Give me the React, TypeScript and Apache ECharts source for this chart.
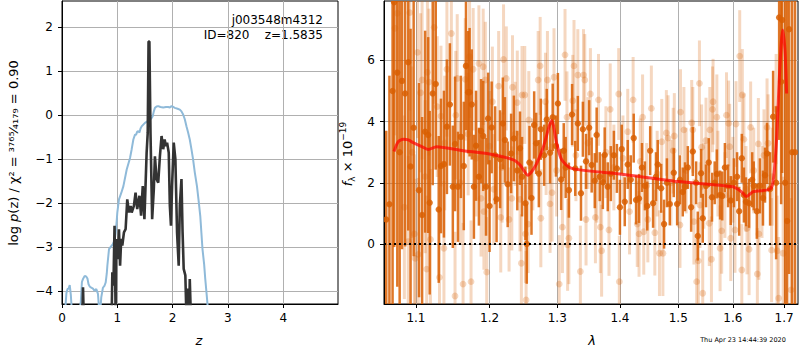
import React, { useEffect, useRef } from "react";
import * as echarts from "echarts";

// ---------- left panel: log p(z) ----------
const zTicks = [0, 1, 2, 3, 4];
const pzTicks = [-4, -3, -2, -1, 0, 1, 2];

const blueZ = [0.0, 0.06, 0.08, 0.1, 0.12, 0.14, 0.16, 0.18, 0.3, 0.34, 0.36, 0.38, 0.41, 0.44, 0.46, 0.48, 0.5, 0.53, 0.56, 0.59, 0.62, 0.65, 0.67, 0.69, 0.71, 0.74, 0.77, 0.79, 0.81, 0.82, 0.85, 0.88, 0.92, 0.95, 0.97, 0.99, 1.0, 1.03, 1.07, 1.11, 1.17, 1.23, 1.26, 1.29, 1.32, 1.34, 1.36, 1.38, 1.4, 1.42, 1.44, 1.47, 1.5, 1.55, 1.59, 1.62, 1.64, 1.66, 1.68, 1.71, 1.74, 1.78, 1.83, 1.88, 1.92, 1.95, 1.98, 2.01, 2.04, 2.09, 2.13, 2.16, 2.19, 2.22, 2.25, 2.28, 2.31, 2.34, 2.37, 2.4, 2.44, 2.47, 2.5, 2.54, 2.57, 2.59, 2.62, 2.65, 2.8];
const blueLogP = [-5.0, -4.4, -4.05, -3.96, -3.95, -3.87, -4.1, -4.5, -4.6, -4.25, -3.8, -3.73, -3.66, -3.68, -3.72, -3.85, -3.9, -3.93, -3.95, -4.0, -3.96, -4.07, -4.4, -4.5, -4.15, -3.93, -3.88, -3.81, -3.6, -3.43, -3.05, -3.0, -2.94, -2.85, -2.68, -2.4, -2.22, -1.92, -1.78, -1.62, -1.24, -0.98, -0.78, -0.56, -0.45, -0.45, -0.38, -0.37, -0.4, -0.31, -0.26, -0.22, -0.18, -0.14, -0.11, -0.07, -0.03, 0.08, 0.16, 0.19, 0.2, 0.18, 0.17, 0.18, 0.18, 0.17, 0.2, 0.18, 0.16, 0.14, 0.12, 0.08, 0.01, -0.1, -0.26, -0.4, -0.56, -0.78, -1.01, -1.3, -1.62, -1.95, -2.3, -3.05, -3.4, -3.73, -4.15, -4.6, -5.5];

const blackZ = [0.0, 0.36, 0.38, 0.4, 0.88, 0.9, 0.91, 0.93, 0.95, 0.97, 0.98, 1.01, 1.03, 1.05, 1.07, 1.09, 1.12, 1.15, 1.18, 1.21, 1.24, 1.26, 1.3, 1.33, 1.36, 1.4, 1.43, 1.46, 1.49, 1.51, 1.53, 1.55, 1.565, 1.58, 1.6, 1.63, 1.66, 1.68, 1.71, 1.74, 1.77, 1.8, 1.83, 1.855, 1.88, 1.9, 1.93, 1.95, 1.97, 1.99, 2.02, 2.05, 2.08, 2.11, 2.13, 2.16, 2.18, 2.2, 2.23, 2.25, 2.28, 2.3, 2.31, 2.33, 2.4, 4.99];
const blackLogP = [-5, -5, -3.92, -5, -5, -4.4, -3.58, -3.88, -2.52, -4.6, -2.82, -3.28, -2.6, -3.43, -2.82, -2.97, -2.67, -2.6, -1.92, -2.22, -2.07, -2.22, -2.07, -1.77, -2.14, -1.84, -2.29, -1.62, -2.37, -1.62, -0.86, -0.41, 1.67, 1.67, -0.41, -2.37, -1.69, -0.94, -1.46, -1.54, -0.94, -0.48, -0.78, -0.56, -0.71, -0.63, -0.86, -2.07, -2.52, -1.62, -0.63, -1.01, -2.67, -3.43, -2.07, -1.46, -2.67, -3.5, -3.65, -4.6, -3.95, -4.6, -3.73, -4.6, -5, -5];

// ---------- right panel: spectrum ----------
const lamTicks = [1.1, 1.2, 1.3, 1.4, 1.5, 1.6, 1.7];
const fluxTicks = [0, 2, 4, 6];

const darkWave = [1.062, 1.066, 1.07, 1.072, 1.076, 1.079, 1.082, 1.086, 1.09, 1.093, 1.097, 1.104, 1.108, 1.112, 1.116, 1.118, 1.122, 1.126, 1.13, 1.133, 1.137, 1.141, 1.145, 1.149, 1.152, 1.156, 1.16, 1.164, 1.167, 1.17, 1.172, 1.175, 1.178, 1.181, 1.185, 1.188, 1.191, 1.195, 1.198, 1.2, 1.203, 1.208, 1.21, 1.215, 1.219, 1.222, 1.226, 1.231, 1.235, 1.24, 1.244, 1.247, 1.252, 1.254, 1.258, 1.261, 1.265, 1.268, 1.272, 1.275, 1.28, 1.284, 1.289, 1.293, 1.298, 1.301, 1.306, 1.31, 1.313, 1.318, 1.323, 1.328, 1.332, 1.337, 1.34, 1.345, 1.35, 1.354, 1.359, 1.362, 1.367, 1.372, 1.375, 1.38, 1.385, 1.39, 1.395, 1.4, 1.403, 1.408, 1.413, 1.418, 1.423, 1.427, 1.432, 1.437, 1.442, 1.446, 1.451, 1.456, 1.461, 1.464, 1.47, 1.475, 1.48, 1.485, 1.492, 1.498, 1.503, 1.508, 1.512, 1.517, 1.523, 1.526, 1.532, 1.535, 1.541, 1.544, 1.55, 1.555, 1.561, 1.566, 1.57, 1.576, 1.58, 1.585, 1.591, 1.596, 1.602, 1.608, 1.612, 1.617, 1.621, 1.625, 1.631, 1.637, 1.64, 1.646, 1.652, 1.658, 1.662, 1.666, 1.672, 1.678, 1.684, 1.69, 1.694, 1.696, 1.702, 1.706, 1.71, 1.716, 1.722];
const darkFlux = [0.8, 1.3, 5.0, 7.9, 5.6, 3.0, 5.33, 4.92, 5.94, 2.53, 3.8, 1.76, 0.95, 3.67, 3.56, 1.35, 4.92, 5.23, 1.13, 2.55, 2.61, 3.83, 4.56, 1.87, 3.27, 1.87, 3.5, 2.55, 5.82, 4.96, 4.96, 4.56, 1.87, 3.21, 2.2, 3.69, 3.53, 1.87, 4.1, 1.24, 3.81, 2.9, 1.46, 2.77, 3.94, 3.4, 1.95, 2.96, 3.45, 2.4, 3.13, 2.2, 1.33, 0.0, 2.66, 1.5, 3.89, 3.29, 2.3, 3.75, 2.9, 4.07, 2.98, 4.14, 3.2, 4.59, 2.11, 3.05, 2.5, 1.76, 4.23, 2.47, 3.94, 1.66, 3.75, 2.7, 3.8, 2.58, 2.07, 3.56, 2.2, 2.04, 2.91, 1.87, 2.3, 2.9, 2.47, 1.2, 3.1, 1.38, 2.6, 2.1, 3.46, 1.44, 1.49, 2.5, 1.9, 1.24, 3.05, 1.33, 2.2, 2.6, 1.82, 0.65, 2.0, 1.31, 2.33, 1.31, 2.1, 1.7, 1.87, 2.5, 1.2, 3.02, 2.0, 0.26, 2.31, 0.84, 1.9, 2.66, 1.53, 2.0, 2.29, 1.6, 1.57, 2.5, 1.9, 1.42, 2.0, 2.2, 1.07, 2.8, 1.6, 1.38, 1.33, 2.1, 1.9, 1.07, 1.9, 1.5, 2.25, 2.96, 1.8, 4.16, 2.0, 7.4, 5.3, 7.32, 2.0, 0.75, 7.02, 3.0, 3.0];
const darkErr = [2.9, 4.2, 7.5, 8.0, 7.0, 6.5, 5.5, 5.0, 5.5, 4.5, 4.2, 3.5, 3.2, 3.3, 3.2, 3.0, 3.0, 2.8, 2.4, 2.2, 2.4, 2.2, 2.0, 2.0, 2.2, 1.8, 2.0, 2.1, 2.1, 2.0, 2.1, 1.8, 1.7, 1.8, 1.6, 1.7, 1.8, 1.6, 1.5, 1.5, 1.5, 1.6, 1.4, 1.6, 1.5, 1.4, 1.4, 1.3, 1.4, 1.3, 1.2, 1.3, 1.2, 1.3, 1.2, 1.2, 1.1, 1.0, 1.1, 1.0, 1.0, 1.0, 1.0, 1.1, 1.0, 1.0, 1.0, 0.9, 1.0, 0.9, 1.0, 0.9, 0.9, 0.9, 0.9, 0.9, 0.9, 0.9, 0.9, 0.9, 0.8, 0.9, 0.9, 0.8, 0.9, 0.8, 0.8, 0.9, 0.8, 0.8, 0.8, 0.8, 0.8, 0.8, 0.8, 0.8, 0.8, 0.8, 0.8, 0.8, 0.8, 0.8, 0.8, 0.8, 0.8, 0.7, 0.8, 0.7, 0.8, 0.8, 0.8, 0.7, 0.8, 0.8, 0.7, 0.8, 0.8, 0.8, 0.7, 0.8, 0.8, 0.7, 0.8, 0.8, 0.8, 0.8, 0.7, 0.8, 0.8, 0.8, 0.8, 0.8, 0.9, 0.8, 0.8, 0.9, 0.8, 0.9, 0.9, 0.9, 0.9, 1.0, 1.2, 1.5, 2.5, 4.0, 4.0, 5.0, 8.0, 8.0, 8.0, 9.0, 9.0];

const lightWave = [1.073, 1.076, 1.085, 1.09, 1.092, 1.095, 1.098, 1.099, 1.102, 1.103, 1.106, 1.108, 1.112, 1.114, 1.115, 1.117, 1.119, 1.124, 1.128, 1.131, 1.133, 1.137, 1.138, 1.141, 1.147, 1.152, 1.153, 1.155, 1.159, 1.163, 1.166, 1.17, 1.172, 1.174, 1.177, 1.181, 1.185, 1.188, 1.191, 1.192, 1.194, 1.196, 1.2, 1.204, 1.206, 1.213, 1.216, 1.218, 1.22, 1.224, 1.228, 1.232, 1.233, 1.237, 1.24, 1.244, 1.246, 1.247, 1.251, 1.252, 1.253, 1.256, 1.257, 1.263, 1.271, 1.274, 1.275, 1.282, 1.283, 1.285, 1.289, 1.292, 1.295, 1.299, 1.303, 1.308, 1.312, 1.315, 1.316, 1.318, 1.324, 1.326, 1.329, 1.332, 1.336, 1.341, 1.343, 1.345, 1.348, 1.352, 1.36, 1.362, 1.365, 1.368, 1.37, 1.377, 1.382, 1.384, 1.39, 1.398, 1.399, 1.405, 1.413, 1.416, 1.422, 1.429, 1.432, 1.434, 1.438, 1.44, 1.445, 1.447, 1.453, 1.459, 1.463, 1.467, 1.471, 1.473, 1.479, 1.482, 1.487, 1.491, 1.493, 1.503, 1.504, 1.51, 1.514, 1.524, 1.526, 1.528, 1.533, 1.536, 1.538, 1.539, 1.542, 1.544, 1.546, 1.55, 1.556, 1.557, 1.56, 1.562, 1.563, 1.57, 1.572, 1.576, 1.579, 1.585, 1.588, 1.592, 1.594, 1.596, 1.6, 1.604, 1.606, 1.613, 1.617, 1.618, 1.621, 1.625, 1.627, 1.631, 1.634, 1.64, 1.647, 1.649, 1.65, 1.656, 1.66, 1.666, 1.668, 1.675, 1.676, 1.684, 1.686, 1.689, 1.698, 1.714];
const lightFlux = [7.05, 7.54, 1.2, 0.08, 7.56, 3.0, 0.33, -0.47, 6.26, -0.34, 4.94, 5.36, 2.2, -0.82, 5.61, 5.29, 0.15, 7.08, 4.49, -1.09, 4.18, -0.14, 3.3, 5.71, 6.88, -1.7, 4.21, 5.41, 2.0, -1.31, 5.38, 3.59, 6.12, -1.23, 5.71, 2.8, 5.9, 1.49, 5.79, 1.06, 5.36, -0.92, 3.2, 4.65, 1.79, 5.16, 0.87, 2.5, 6.03, 5.41, 0.8, 1.49, 5.12, 3.6, 4.62, 1.46, -0.63, 4.87, 4.87, 0.33, -1.83, 0.65, 4.05, 2.6, 5.36, 5.82, 0.84, 4.65, 3.1, 5.36, 1.31, 1.68, 5.45, 2.4, -1.31, 0.55, 6.18, 4.14, -0.03, 0.19, 4.68, 5.82, 2.9, 5.52, -0.9, 5.52, 5.36, 0.8, 3.3, 4.9, 0.87, 2.2, 4.71, 0.55, -0.22, 3.0, 0.46, 4.4, 2.5, 4.9, -1.23, 2.8, 3.67, 1.06, 4.71, 0.65, 0.33, 2.7, 4.14, 0.4, 1.9, 0.8, 4.43, 0.37, 2.3, -0.3, 3.34, -0.3, 3.63, 3.46, 2.0, 3.05, 3.53, 0.62, 4.31, 3.73, 2.4, 3.96, 3.73, 0.73, -1.23, -0.55, 5.25, 1.27, 3.16, -1.61, 1.9, 3.38, 0.68, 3.73, -0.5, 4.4, 4.65, 4.14, 2.3, -0.14, 0.43, 1.6, 4.21, 3.94, 3.18, 0.19, 2.1, 0.46, 3.92, 6.14, -0.85, 4.87, 3.42, 1.8, 0.51, -0.17, 3.81, 2.4, -0.98, 3.27, 0.33, 1.7, 2.9, 3.81, 3.29, -0.2, 2.2, 4.41, -0.22, -1.77, -0.3, -1.5];
const lightErr = [3.5, 3.5, 3.0, 2.8, 3.2, 2.8, 2.6, 2.6, 2.8, 2.5, 2.6, 2.6, 2.5, 2.4, 2.5, 2.4, 2.3, 2.5, 2.3, 2.2, 2.3, 2.2, 2.2, 2.2, 2.2, 2.1, 2.1, 2.1, 2.0, 2.0, 2.0, 2.0, 2.0, 2.0, 2.0, 1.9, 1.9, 1.9, 1.9, 1.9, 1.9, 1.8, 1.8, 1.8, 1.8, 1.8, 1.8, 1.8, 1.8, 1.7, 1.7, 1.7, 1.7, 1.7, 1.7, 1.7, 1.6, 1.6, 1.6, 1.6, 1.6, 1.6, 1.6, 1.5, 1.6, 1.6, 1.6, 1.6, 1.5, 1.6, 1.6, 1.6, 1.6, 1.5, 1.6, 1.5, 1.5, 1.5, 1.5, 1.5, 1.5, 1.5, 1.5, 1.5, 1.5, 1.5, 1.5, 1.5, 1.5, 1.5, 1.5, 1.5, 1.5, 1.5, 1.5, 1.5, 1.5, 1.5, 1.4, 1.5, 1.5, 1.4, 1.4, 1.4, 1.4, 1.4, 1.4, 1.4, 1.4, 1.4, 1.4, 1.4, 1.4, 1.4, 1.4, 1.4, 1.4, 1.4, 1.4, 1.4, 1.4, 1.4, 1.4, 1.4, 1.4, 1.4, 1.4, 1.4, 1.4, 1.4, 1.4, 1.4, 1.4, 1.4, 1.4, 1.4, 1.4, 1.4, 1.4, 1.4, 1.4, 1.4, 1.4, 1.4, 1.4, 1.4, 1.4, 1.4, 1.4, 1.4, 1.4, 1.4, 1.4, 1.4, 1.4, 1.5, 1.5, 1.5, 1.5, 1.4, 1.5, 1.5, 1.5, 1.4, 1.5, 1.5, 1.5, 1.5, 1.5, 1.6, 1.6, 1.7, 1.6, 1.8, 1.8, 2.0, 2.5, 3.0];

const modelWave = [1.0718, 1.077, 1.0836, 1.09, 1.0965, 1.1095, 1.116, 1.1272, 1.1632, 1.2, 1.2343, 1.2441, 1.2555, 1.2664, 1.2789, 1.2915, 1.2992, 1.3069, 1.3224, 1.4, 1.5, 1.6, 1.6163, 1.626, 1.6388, 1.6714, 1.678, 1.6848, 1.6915, 1.697, 1.7016, 1.705];
const modelFlux = [3.02, 3.34, 3.42, 3.4, 3.31, 3.16, 3.09, 3.18, 3.05, 2.94, 2.75, 2.58, 2.25, 2.53, 3.18, 4.03, 3.29, 2.75, 2.47, 2.29, 2.04, 1.87, 1.71, 1.55, 1.71, 1.79, 2.04, 3.4, 5.8, 6.99, 6.34, 4.92];

const Z_MAX = 4.99;
const PZ_MIN = -4.3;
const PZ_MAX = 2.59;
const LAM_MIN = 1.0592;
const LAM_MAX = 1.7281;
const F_MIN = -1.96;
const F_MAX = 7.94;

const FONT = "DejaVu Sans";
const LIGHT = "rgba(217,95,2,0.25)";
const DARK = "rgba(217,95,2,0.85)";

const lg = (v: number) => Math.log10(v);

function errRender(color: string, lw: number, r: number) {
  return (params: any, api: any) => {
    const x = api.value(0);
    const y = api.value(1);
    const e = api.value(2);
    const hi = Math.min(y + e, F_MAX);
    const lo = Math.max(y - e, F_MIN);
    const children: any[] = [];
    if (hi > lo) {
      const p0 = api.coord([x, hi]);
      const p1 = api.coord([x, lo]);
      children.push({
        type: "line",
        shape: { x1: p0[0], y1: p0[1], x2: p1[0], y2: p1[1] },
        style: { stroke: color, lineWidth: lw },
      });
    }
    if (y <= F_MAX && y >= F_MIN) {
      const c = api.coord([x, y]);
      children.push({ type: "circle", shape: { cx: c[0], cy: c[1], r }, style: { fill: color } });
    }
    return { type: "group", children };
  };
}

function axisCommon(ticks: number[], fmt?: (v: number) => string) {
  return {
    axisLine: { show: true, onZero: false, lineStyle: { color: "#000", width: 1 } },
    axisTick: { show: true, length: 4, customValues: ticks, lineStyle: { color: "#000", width: 1 } },
    axisLabel: {
      customValues: ticks,
      color: "#000",
      fontSize: 12,
      fontFamily: FONT,
      formatter: fmt ? (v: number) => fmt(v) : (v: number) => String(Math.round(v)).replace("-", "\u2212"),
    },
    splitLine: { show: true, lineStyle: { color: "#b0b0b0", width: 1 } },
  };
}

export default function App() {
  const ref = useRef<HTMLDivElement>(null);
  useEffect(() => {
    if (!ref.current) return;
    const chart = echarts.init(ref.current, undefined, { renderer: "svg" });
    const lamTickVals = lamTicks.map(lg);
    const option: any = {
      animation: false,
      backgroundColor: "#fff",
      textStyle: { fontFamily: FONT },
      grid: [
        { left: 62, top: 1, width: 276, height: 303, show: true, borderColor: "#000", borderWidth: 1, backgroundColor: "transparent", outerBoundsMode: "none" },
        { left: 384, top: 1, width: 414, height: 303, show: true, borderColor: "#000", borderWidth: 1, backgroundColor: "transparent", outerBoundsMode: "none" },
      ],
      xAxis: [
        (() => {
          const a: any = { gridIndex: 0, type: "value", min: 0, max: Z_MAX, ...axisCommon(zTicks) };
          a.axisLabel.margin = 8;
          return a;
        })(),
        (() => {
          const a: any = {
            gridIndex: 1,
            type: "value",
            min: lg(LAM_MIN),
            max: lg(LAM_MAX),
            ...axisCommon(lamTickVals, (v: number) => Math.pow(10, v).toFixed(1)),
          };
          a.axisLabel.margin = 8;
          return a;
        })(),
      ],
      yAxis: [
        (() => {
          const a: any = { gridIndex: 0, type: "value", min: PZ_MIN, max: PZ_MAX, ...axisCommon(pzTicks) };
          a.axisLabel.margin = 9;
          return a;
        })(),
        (() => {
          const a: any = { gridIndex: 1, type: "value", min: F_MIN, max: F_MAX, ...axisCommon(fluxTicks) };
          a.axisLabel.margin = 9;
          return a;
        })(),
      ],
      series: [
        {
          type: "line",
          xAxisIndex: 0,
          yAxisIndex: 0,
          data: blueZ.map((z, i) => [z, blueLogP[i]]),
          showSymbol: false,
          symbol: "none",
          clip: true,
          lineStyle: { color: "#8fbad9", width: 2 },
          z: 3,
        },
        {
          type: "line",
          xAxisIndex: 0,
          yAxisIndex: 0,
          data: blackZ.map((z, i) => [z, blackLogP[i]]),
          showSymbol: false,
          symbol: "none",
          clip: true,
          lineStyle: { color: "#333333", width: 2.6 },
          z: 4,
        },
        {
          type: "custom",
          xAxisIndex: 1,
          yAxisIndex: 1,
          clip: true,
          renderItem: errRender(LIGHT, 3, 3.4),
          encode: { x: 0, y: 1 },
          data: lightWave.map((w, i) => [lg(w), lightFlux[i], lightErr[i]]),
          z: 2,
        },
        {
          type: "custom",
          xAxisIndex: 1,
          yAxisIndex: 1,
          clip: true,
          renderItem: errRender(DARK, 2.5, 3.2),
          encode: { x: 0, y: 1 },
          data: darkWave.map((w, i) => [lg(w), darkFlux[i], darkErr[i]]),
          z: 3,
        },
        {
          type: "line",
          xAxisIndex: 1,
          yAxisIndex: 1,
          data: modelWave.map((w, i) => [lg(w), modelFlux[i]]),
          showSymbol: false,
          symbol: "none",
          smooth: 0.25,
          clip: true,
          lineStyle: { color: "rgba(255,0,0,0.7)", width: 3 },
          z: 5,
          markLine: {
            silent: true,
            symbol: "none",
            label: { show: false },
            lineStyle: { color: "#000", width: 2, type: [2, 3] },
            data: [{ yAxis: 0 }],
          },
        },
      ],
      graphic: [
        {
          type: "text",
          x: 323,
          y: 20,
          style: { text: "j003548m4312", fill: "#000", font: `12px "${FONT}"`, align: "right", verticalAlign: "middle" },
        },
        {
          type: "text",
          x: 323,
          y: 35,
          style: { text: "ID=820    z=1.5835", fill: "#000", font: `12px "${FONT}"`, align: "right", verticalAlign: "middle" },
        },
        {
          type: "text",
          x: 13,
          y: 153,
          rotation: Math.PI / 2,
          style: {
            text: "{n|log }{i|p}{n|(z) / χ² = }{f|³⁷⁶⁵⁄₄₁₇₉}{n| = 0.90}",
            align: "center",
            verticalAlign: "middle",
            fill: "#000",
            rich: {
              n: { fontSize: 13, fontFamily: FONT, fill: "#000" },
              i: { fontSize: 13, fontFamily: FONT, fontStyle: "italic", fill: "#000" },
              f: { fontSize: 13, fontFamily: FONT, fill: "#000" },
            },
          },
        },
        {
          type: "text",
          x: 347,
          y: 154,
          rotation: Math.PI / 2,
          style: {
            text: "{i|f}{s|λ}{n| × 10}{p|−19}",
            align: "center",
            verticalAlign: "middle",
            fill: "#000",
            rich: {
              n: { fontSize: 13, fontFamily: FONT, fill: "#000", lineHeight: 18 },
              i: { fontSize: 13, fontFamily: FONT, fontStyle: "italic", fill: "#000", lineHeight: 18 },
              s: { fontSize: 9, fontFamily: FONT, fill: "#000", verticalAlign: "bottom", lineHeight: 18 },
              p: { fontSize: 9, fontFamily: FONT, fill: "#000", verticalAlign: "top", lineHeight: 18 },
            },
          },
        },
        {
          type: "text",
          x: 199,
          y: 340,
          style: { text: "z", fill: "#000", font: `italic 13px "${FONT}"`, align: "center", verticalAlign: "middle" },
        },
        {
          type: "text",
          x: 592,
          y: 340,
          style: { text: "λ", fill: "#000", font: `italic 13px "${FONT}"`, align: "center", verticalAlign: "middle" },
        },
        {
          type: "text",
          x: 743,
          y: 340,
          style: { text: "Thu Apr 23 14:44:39 2020", fill: "#000", font: `6.5px "${FONT}"`, align: "center", verticalAlign: "middle" },
        },
      ],
    };
    chart.setOption(option);
    return () => chart.dispose();
  }, []);
  return <div ref={ref} style={{ position: "absolute", left: 0, top: 0, width: 800, height: 350 }} />;
}
